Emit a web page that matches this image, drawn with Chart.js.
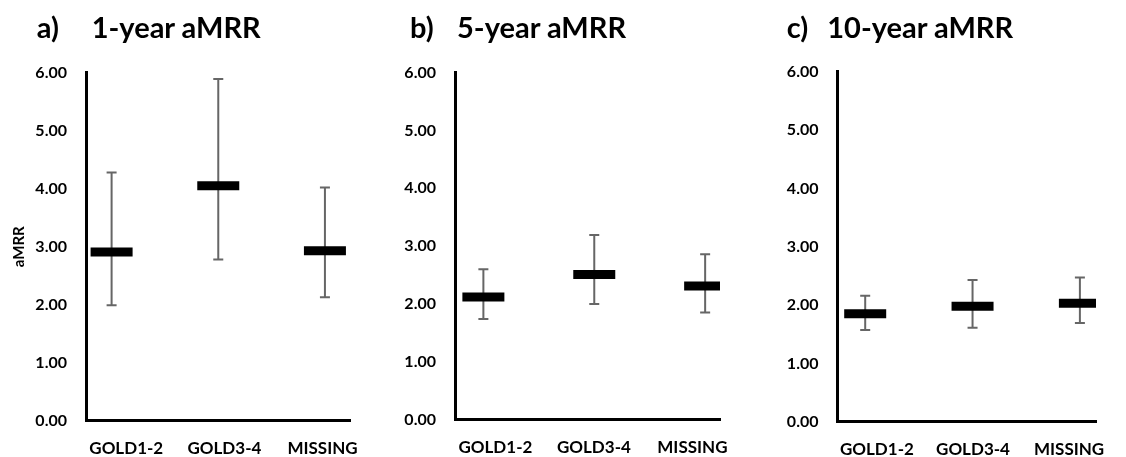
<!DOCTYPE html>
<html>
<head>
<meta charset="utf-8">
<title>aMRR by GOLD stage</title>
<script src="https://cdn.jsdelivr.net/npm/chart.js@4/dist/chart.umd.min.js"></script>
<style>
  html, body { margin: 0; padding: 0; background: #fff; }
  body { position: relative; width: 1126px; height: 457px; overflow: hidden; font-family: Lato, "Open Sans", sans-serif; }
  canvas { position: absolute; top: 0; }
  .hd { position: absolute; top: 12px; font: 700 29px/29px Lato, sans-serif; color: #000; white-space: nowrap; }
</style>
</head>
<body>
<canvas id="ca" width="380" height="457" style="left:0px"></canvas>
<canvas id="cb" width="370" height="457" style="left:380px"></canvas>
<canvas id="cc" width="376" height="457" style="left:750px"></canvas>
<script>
// Categories and y-axis tick values shared by all three panels
const categories = ['GOLD1-2', 'GOLD3-4', 'MISSING'];
const yTickValues = [0, 1, 2, 3, 4, 5, 6];

// 1-year aMRR: point estimate with lower / upper limits
const mrr1 = [2.91, 4.05, 2.93];
const mrr1Low = [1.99, 2.78, 2.13];
const mrr1High = [4.28, 5.89, 4.02];

// 5-year aMRR
const mrr5 = [2.12, 2.51, 2.31];
const mrr5Low = [1.74, 2.00, 1.85];
const mrr5High = [2.60, 3.19, 2.86];

// 10-year aMRR
const mrr10 = [1.85, 1.98, 2.03];
const mrr10Low = [1.57, 1.61, 1.69];
const mrr10High = [2.16, 2.43, 2.47];

// Panel headings
const panelTags = ['a)', 'b)', 'c)'];
const panelTitles = ['1-year aMRR', '5-year aMRR', '10-year aMRR'];

const TEXT = '#000';
const WHISKER = '#666';
const FONT = 'Lato, "Open Sans", sans-serif';
const H = 457;

// Page layout of each panel (canvas placement and plot box in page pixels)
const panels = [
  { canvas: 'ca', left: 0,   width: 380, tagX: 36.7, titleX: 91.7,
    area: { left: 86, right: 363, top: 72.7, bottom: 420.7 },
    mark: { min: -0.24, max: 2.235 },
    values: mrr1, low: mrr1Low, high: mrr1High, yTitle: 'aMRR' },
  { canvas: 'cb', left: 380, width: 370, tagX: 410, titleX: 457,
    area: { left: 455, right: 735, top: 72.7, bottom: 419.5 },
    mark: { min: -0.256, max: 2.134 },
    values: mrr5, low: mrr5Low, high: mrr5High, yTitle: null },
  { canvas: 'cc', left: 750, width: 376, tagX: 786.7, titleX: 827.3,
    area: { left: 837.5, right: 1115.7, top: 71.7, bottom: 421.7 },
    mark: { min: -0.258, max: 2.15 },
    values: mrr10, low: mrr10Low, high: mrr10High, yTitle: null }
];

function addHeading(text, x) {
  const d = document.createElement('div');
  d.className = 'hd';
  d.style.left = x + 'px';
  d.textContent = text;
  document.body.appendChild(d);
}

panels.forEach((p, k) => {
  addHeading(panelTags[k], p.tagX);
  addHeading(panelTitles[k], p.titleX);

  // thick black bar marking each estimate
  const datasets = [{
    type: 'line',
    data: categories.map((c, i) => ({ x: i, y: p.values[i] })),
    showLine: false,
    pointStyle: 'line',
    pointRadius: 21,
    pointHoverRadius: 21,
    pointBorderWidth: 9,
    pointHoverBorderWidth: 9,
    borderColor: '#000',
    xAxisID: 'x',
    yAxisID: 'y'
  }];

  // whiskers from the lower to the upper limit, with short caps
  categories.forEach((c, i) => {
    datasets.push({
      type: 'line',
      data: [{ x: i, y: p.low[i] }, { x: i, y: p.high[i] }],
      borderColor: WHISKER,
      borderWidth: 2,
      pointStyle: 'line',
      pointRadius: 5,
      pointHoverRadius: 5,
      pointBorderWidth: 2,
      pointHoverBorderWidth: 2,
      pointBorderColor: WHISKER,
      xAxisID: 'x',
      yAxisID: 'y'
    });
  });

  const plotLeft = p.area.left - p.left;
  const plotRight = p.area.right - p.left;

  new Chart(document.getElementById(p.canvas), {
    type: 'line',
    data: { datasets },
    options: {
      responsive: false,
      animation: false,
      devicePixelRatio: 1,
      events: [],
      layout: { padding: { top: p.area.top, right: p.width - plotRight, left: 0, bottom: 0 } },
      plugins: { legend: { display: false }, tooltip: { enabled: false }, title: { display: false } },
      scales: {
        y: {
          type: 'linear',
          position: 'left',
          min: 0,
          max: 6,
          afterBuildTicks: s => { s.ticks = yTickValues.map(v => ({ value: v })); },
          afterFit: s => { s.width = plotLeft; },
          grid: { display: false },
          border: { display: true, color: '#000', width: 3 },
          ticks: {
            color: TEXT,
            font: { family: FONT, size: 16, weight: 'bold' },
            padding: 11,
            callback: v => Number(v).toFixed(2)
          },
          title: {
            display: !!p.yTitle,
            text: p.yTitle || '',
            color: TEXT,
            font: { family: FONT, size: 15, weight: 'bold' },
            padding: { top: 10, bottom: 0 }
          }
        },
        // category labels along the bottom axis line
        xl: {
          type: 'linear',
          position: 'bottom',
          min: -0.41,
          max: 2.28,
          afterBuildTicks: s => { s.ticks = categories.map((c, i) => ({ value: i })); },
          afterFit: s => { s.height = H - p.area.bottom; },
          grid: { display: false },
          border: { display: true, color: '#000', width: 3 },
          ticks: {
            autoSkip: false,
            maxRotation: 0,
            color: TEXT,
            font: { family: FONT, size: 17, weight: 'bold' },
            padding: 10,
            callback: (v, i) => categories[i]
          }
        },
        // positions of the estimates and whiskers
        x: {
          type: 'linear',
          position: 'bottom',
          display: false,
          min: p.mark.min,
          max: p.mark.max
        }
      }
    }
  });
});
</script>
</body>
</html>
